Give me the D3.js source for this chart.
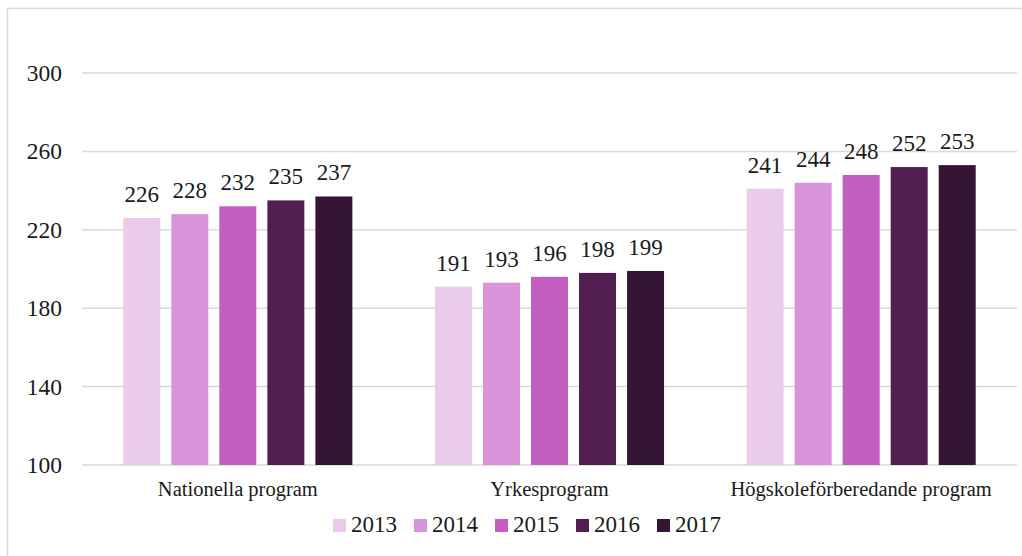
<!DOCTYPE html>
<html>
<head>
<meta charset="utf-8">
<script src="https://cdn.jsdelivr.net/npm/d3@7"></script>
<style>
  body { margin: 0; background: #fff; }
</style>
</head>
<body>
<svg width="1022" height="556"></svg>
<script>
// data
const categories = ['Nationella program', 'Yrkesprogram', 'Högskoleförberedande program'];
const years = ['2013', '2014', '2015', '2016', '2017'];
const v2013 = [226, 191, 241];
const v2014 = [228, 193, 244];
const v2015 = [232, 196, 248];
const v2016 = [235, 198, 252];
const v2017 = [237, 199, 253];
const yTicks = [100, 140, 180, 220, 260, 300];
const colors = ['#ebcaea', '#d993d8', '#c45ec0', '#521d50', '#361534'];

const series = [v2013, v2014, v2015, v2016, v2017];
const FONT = 'Liberation Serif';

const svg = d3.select('svg');

// outer frame (cropped on right and bottom)
svg.append('rect')
  .attr('x', 7.5).attr('y', 8.5)
  .attr('width', 1030).attr('height', 560)
  .attr('fill', 'none')
  .attr('stroke', '#d9d9d9')
  .attr('stroke-width', 1.5);

const mLeft = 82, mRight = 1017, mTop = 73, mBottom = 465;

const y = d3.scaleLinear().domain([100, 300]).range([mBottom, mTop]);

const x0 = d3.scaleBand()
  .domain(categories)
  .range([mLeft, mRight])
  .padding(0);

const x1 = d3.scaleBand()
  .domain(years)
  .range([0, x0.bandwidth()])
  .paddingInner(0.23)
  .paddingOuter(0.86);

// gridlines
svg.append('g').selectAll('line')
  .data(yTicks)
  .enter()
  .append('line')
  .attr('x1', mLeft).attr('x2', mRight)
  .attr('y1', d => y(d)).attr('y2', d => y(d))
  .attr('stroke', '#d9d9d9')
  .attr('stroke-width', 1.5);

// y tick labels
svg.append('g').selectAll('text')
  .data(yTicks)
  .enter()
  .append('text')
  .attr('x', 62)
  .attr('y', d => y(d) + 8)
  .attr('text-anchor', 'end')
  .attr('font-family', FONT)
  .attr('font-size', 23.5)
  .attr('fill', '#1a1a1a')
  .text(d => d);

// bars
const groups = svg.append('g').selectAll('g')
  .data(categories)
  .enter()
  .append('g')
  .attr('transform', d => `translate(${x0(d)},0)`);

groups.selectAll('rect')
  .data((c, ci) => years.map((yr, i) => ({ yr, v: series[i][ci], i })))
  .enter()
  .append('rect')
  .attr('x', d => x1(d.yr))
  .attr('width', x1.bandwidth())
  .attr('y', d => y(d.v))
  .attr('height', d => mBottom - y(d.v))
  .attr('fill', d => colors[d.i]);

groups.selectAll('text')
  .data((c, ci) => years.map((yr, i) => ({ yr, v: series[i][ci], i })))
  .enter()
  .append('text')
  .attr('x', d => x1(d.yr) + x1.bandwidth() / 2)
  .attr('y', d => y(d.v) - 16)
  .attr('text-anchor', 'middle')
  .attr('font-family', FONT)
  .attr('font-size', 23)
  .attr('fill', '#1a1a1a')
  .text(d => d.v);

// category labels
svg.append('g').selectAll('text')
  .data(categories)
  .enter()
  .append('text')
  .attr('x', d => x0(d) + x0.bandwidth() / 2)
  .attr('y', 496)
  .attr('text-anchor', 'middle')
  .attr('font-family', FONT)
  .attr('font-size', 20.5)
  .attr('fill', '#1a1a1a')
  .text(d => d);

// legend
const legend = svg.append('g').attr('transform', 'translate(333,519)');
const item = legend.selectAll('g')
  .data(years)
  .enter()
  .append('g')
  .attr('transform', (d, i) => `translate(${i * 81},0)`);
item.append('rect')
  .attr('width', 13).attr('height', 13)
  .attr('fill', (d, i) => colors[i]);
item.append('text')
  .attr('x', 18).attr('y', 13)
  .attr('font-family', FONT)
  .attr('font-size', 23)
  .attr('fill', '#1a1a1a')
  .text(d => d);
</script>
</body>
</html>
